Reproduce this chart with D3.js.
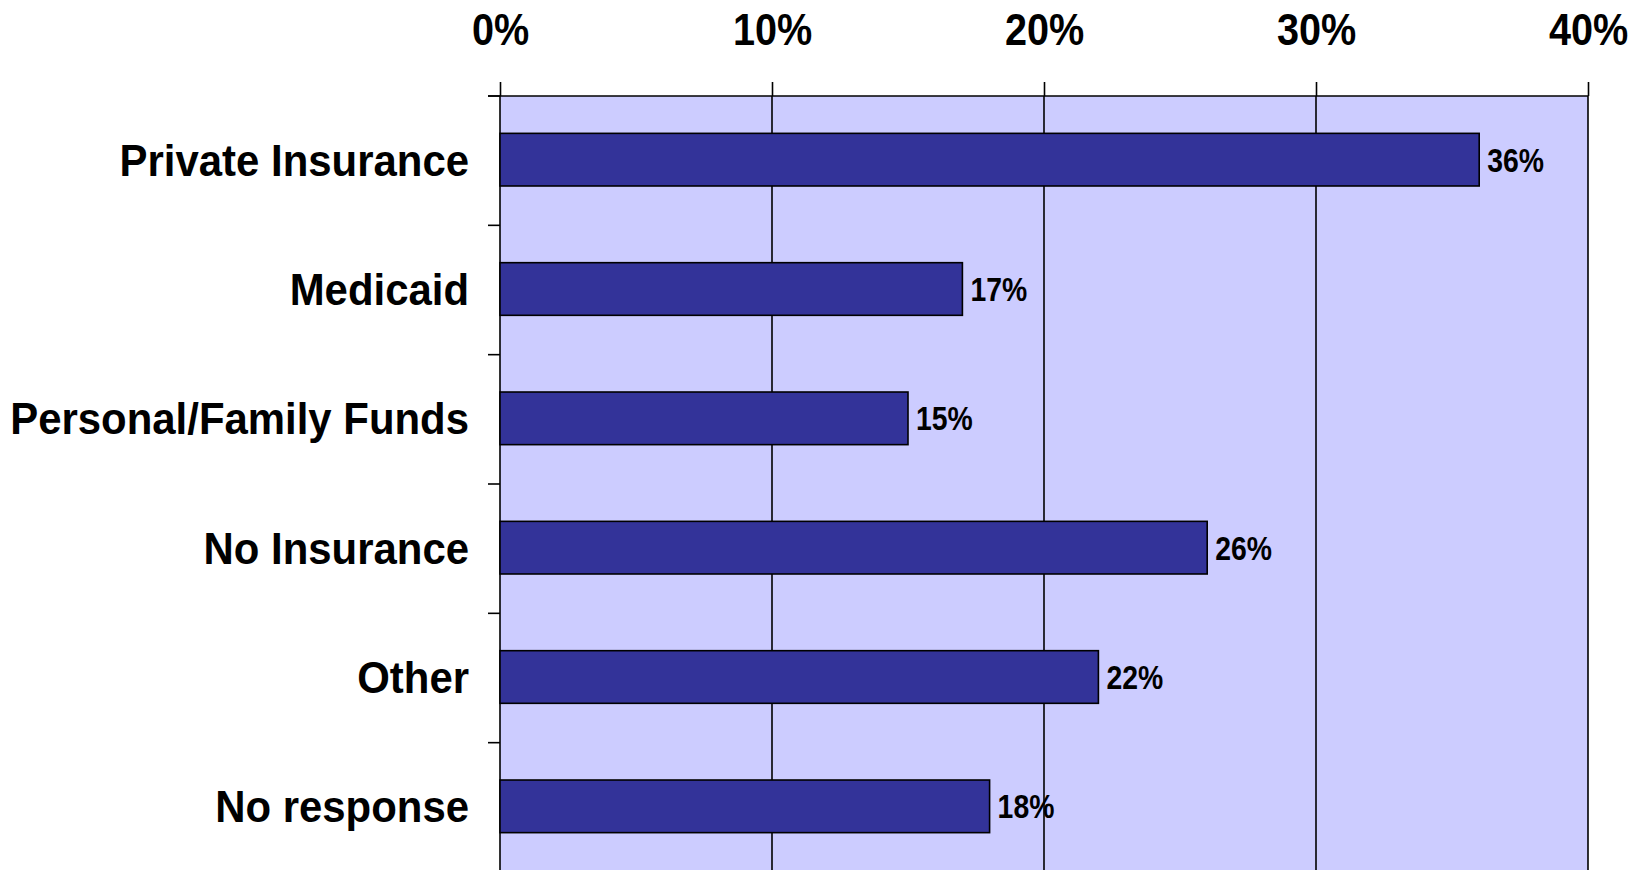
<!DOCTYPE html>
<html>
<head>
<meta charset="utf-8">
<script src="https://cdn.jsdelivr.net/npm/d3@7"></script>
<style>
  html, body { margin: 0; padding: 0; background: #ffffff; }
  svg { display: block; font-family: "Liberation Sans", Arial, sans-serif; }
</style>
</head>
<body>
<svg id="chart" width="1644" height="870"></svg>
<script>
const categories = ["Private Insurance", "Medicaid", "Personal/Family Funds", "No Insurance", "Other", "No response"];
const values = [36, 17, 15, 26, 22, 18];
const tickValues = [0, 10, 20, 30, 40];
const tickLabels = ["0%", "10%", "20%", "30%", "40%"];

const svg = d3.select("#chart");
const plot = { left: 500, right: 1588, top: 96, bottom: 872 };

const x = d3.scaleLinear().domain([0, 40]).range([plot.left, plot.right]);
const y = d3.scaleBand().domain(categories).range([plot.top, plot.bottom])
  .paddingInner(0.593).paddingOuter(0.2965);

// plot background
svg.append("rect")
  .attr("x", plot.left).attr("y", plot.top)
  .attr("width", plot.right - plot.left).attr("height", plot.bottom - plot.top)
  .attr("fill", "#CCCCFF");

// vertical gridlines
svg.append("g").selectAll("line").data(tickValues).join("line")
  .attr("x1", d => x(d)).attr("x2", d => x(d))
  .attr("y1", plot.top).attr("y2", plot.bottom)
  .attr("stroke", "#000").attr("stroke-width", 1.6);

// top border
svg.append("line")
  .attr("x1", plot.left - 12).attr("x2", plot.right)
  .attr("y1", plot.top).attr("y2", plot.top)
  .attr("stroke", "#000").attr("stroke-width", 1.6);

// x axis on top
const xAxis = d3.axisTop(x).tickValues(tickValues)
  .tickFormat((d, i) => tickLabels[i]).tickSize(14).tickPadding(37);
const gx = svg.append("g").attr("transform", `translate(0,${plot.top})`).call(xAxis);
gx.select(".domain").remove();
gx.selectAll(".tick line").attr("stroke", "#000").attr("stroke-width", 1.6);
gx.selectAll(".tick text")
  .attr("fill", "#000")
  .style("font-size", "45px").style("font-weight", "bold")
  .style("font-family", "'Liberation Sans', Arial, sans-serif")
  .attr("transform", "scale(0.88,1)");

// category separator ticks on left
const seps = categories.map((c, i) => plot.top + i * y.step());
svg.append("g").selectAll("line").data(seps).join("line")
  .attr("x1", plot.left - 12).attr("x2", plot.left)
  .attr("y1", d => d).attr("y2", d => d)
  .attr("stroke", "#000").attr("stroke-width", 1.6);

// bars
svg.append("g").selectAll("rect").data(values).join("rect")
  .attr("x", x(0))
  .attr("y", (d, i) => y(categories[i]) - 1)
  .attr("width", d => x(d) - x(0))
  .attr("height", y.bandwidth())
  .attr("fill", "#333399")
  .attr("stroke", "#000").attr("stroke-width", 1.6);

// value labels
svg.append("g").selectAll("text").data(values).join("text")
  .attr("transform", (d, i) => `translate(${x(d) + 8},${y(categories[i]) + y.bandwidth() / 2 + 11}) scale(0.86,1)`)
  .attr("fill", "#000")
  .style("font-size", "33px").style("font-weight", "bold")
  .text(d => d + "%");

// category labels
svg.append("g").selectAll("text").data(categories).join("text")
  .attr("transform", d => `translate(469,${y(d) + y.bandwidth() / 2 + 15}) scale(0.975,1.04)`)
  .attr("text-anchor", "end")
  .attr("fill", "#000")
  .style("font-size", "43px").style("font-weight", "bold")
  .text(d => d);
</script>
</body>
</html>
